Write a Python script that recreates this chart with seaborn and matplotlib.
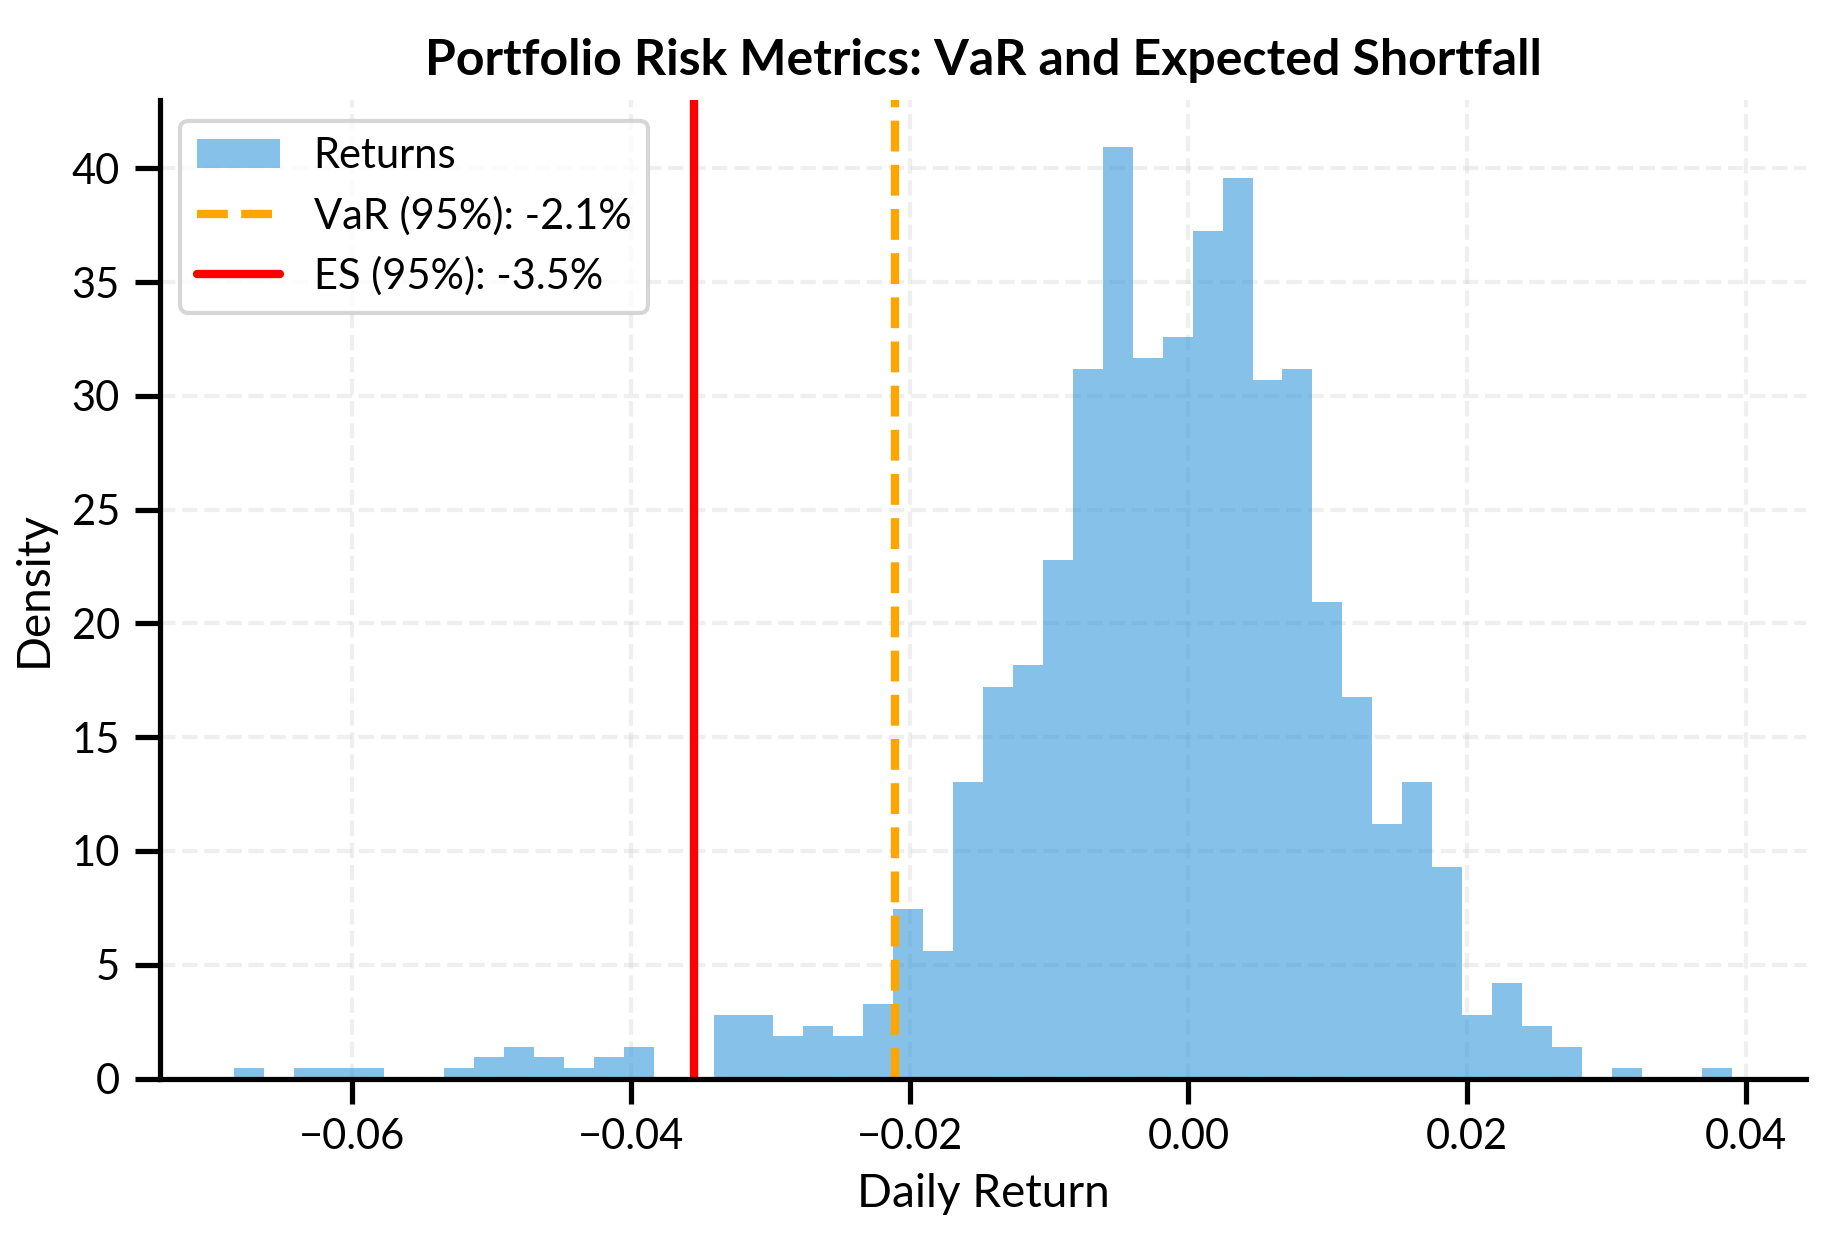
import numpy as np
import matplotlib
matplotlib.use('Agg')
import matplotlib.pyplot as plt
import seaborn as sns

# histogram of 1000 daily returns: 50 bins, counts
bin_lo, bin_hi = -0.06846, 0.03898
counts = [1, 0, 1, 1, 1, 0, 0, 1, 2, 3,
          2, 1, 2, 3, 0, 0, 6, 6, 4, 5,
          4, 7, 16, 12, 28, 37, 39, 49, 67, 88,
          68, 70, 80, 85, 66, 67, 45, 36, 24, 28,
          20, 6, 9, 5, 3, 0, 1, 0, 0, 1]
var_95 = -0.02107
es_95 = -0.03546

n_bins = len(counts)
edges = np.linspace(bin_lo, bin_hi, n_bins + 1)
centers = (edges[:-1] + edges[1:]) / 2

sns.set_theme(style='ticks')
plt.rcParams['font.family'] = ['Lato', 'DejaVu Sans']
plt.rcParams.update({'text.color': 'black', 'axes.labelcolor': 'black',
                     'axes.edgecolor': 'black', 'xtick.color': 'black',
                     'ytick.color': 'black'})

fig, ax = plt.subplots(figsize=(1834 / 300, 1234 / 300), dpi=300)
fig.subplots_adjust(left=0.087, right=0.985, top=0.919, bottom=0.126)

sns.histplot(x=centers, weights=counts, bins=n_bins, binrange=(bin_lo, bin_hi),
             stat='density', color='#3498db', alpha=0.6, linewidth=0,
             label='Returns', ax=ax)
ax.axvline(var_95, color='orange', linestyle='--', linewidth=2,
           label=f'VaR (95%): {var_95:.1%}')
ax.axvline(es_95, color='red', linestyle='-', linewidth=2,
           label=f'ES (95%): {es_95:.1%}')

ax.set_title('Portfolio Risk Metrics: VaR and Expected Shortfall',
             fontsize=12, fontweight='bold')
ax.set_xlabel('Daily Return', fontsize=11)
ax.set_ylabel('Density', fontsize=11)
ax.tick_params(labelsize=10)
ax.grid(True, linestyle='--', alpha=0.3)

# Returns first in the legend
handles, labels = ax.get_legend_handles_labels()
order = [labels.index('Returns')] + [i for i, l in enumerate(labels) if l != 'Returns']
ax.legend([handles[i] for i in order], [labels[i] for i in order],
          loc='upper left', fontsize=10)
sns.despine(ax=ax)

fig.savefig('out.png', dpi=300)
